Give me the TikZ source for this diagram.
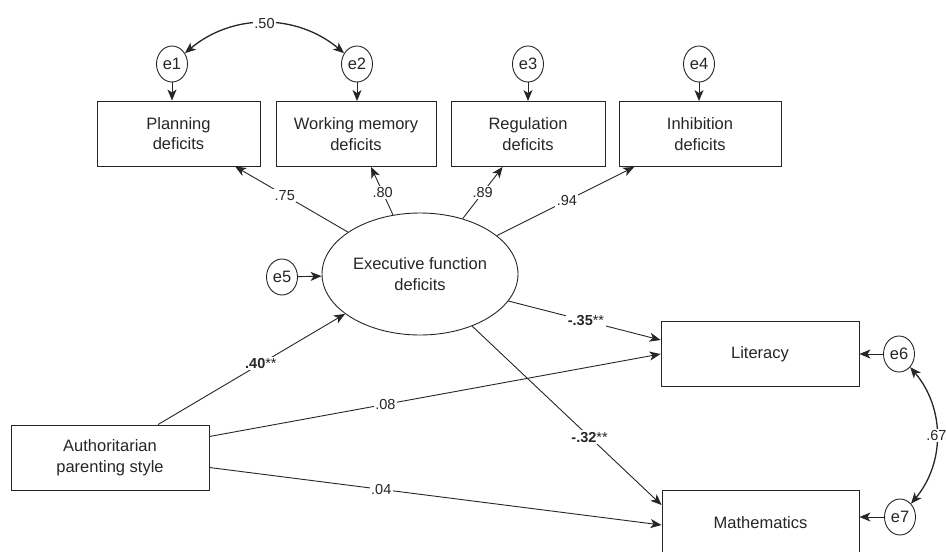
\documentclass[tikz,border=0pt]{standalone}
\usepackage{fontspec}
\setmainfont{Liberation Sans}
\usetikzlibrary{arrows.meta,shapes.geometric}
\begin{document}
\begin{tikzpicture}[x=1pt,y=-1pt,line width=0.9pt,draw=black!85,text=black!85,
    box/.style={draw,rectangle,minimum height=65pt,inner sep=0pt,align=center,font=\fontsize{16.5}{20.5}\selectfont},
    latent/.style={draw,ellipse,minimum width=196pt,minimum height=122pt,inner sep=0pt,align=center,font=\fontsize{16.5}{20.5}\selectfont},
    err/.style={draw,ellipse,minimum width=31pt,minimum height=36pt,inner sep=0pt,font=\fontsize{16.5}{20}\selectfont},
    eff/.style={-{Stealth[length=11pt,width=9pt,inset=3pt]}},
    cov/.style={{Stealth[length=11pt,width=9pt,inset=3pt]}-{Stealth[length=11pt,width=9pt,inset=3pt]},line width=1.3pt},
    coef/.style={fill=white,inner sep=1.5pt,font=\fontsize{14.5}{17}\selectfont}]
      \path[use as bounding box,fill=white] (0,0) rectangle (946,552);
      \node[box,minimum width=163pt] (plan) at (178.5,133.5) {Planning\\deficits};
      \node[box,minimum width=160pt] (wm) at (356,134) {Working memory\\deficits};
      \node[box,minimum width=154pt] (reg) at (528,134) {Regulation\\deficits};
      \node[box,minimum width=162pt] (inh) at (700,134) {Inhibition\\deficits};
      \node[latent] (efd) at (420,274) {Executive function\\deficits};
      \node[box,minimum width=198pt] (auth) at (110,457.5) {Authoritarian\\parenting style};
      \node[box,minimum width=198pt] (lit) at (760,354) {Literacy};
      \node[box,minimum width=197pt] (math) at (760.5,523) {Mathematics};
      \node[err] (e1) at (172,64) {e1};
      \node[err] (e2) at (357,64) {e2};
      \node[err] (e3) at (528,64) {e3};
      \node[err] (e4) at (699,64) {e4};
      \node[err] (e5) at (282,277) {e5};
      \node[err] (e6) at (899,354) {e6};
      \node[err] (e7) at (900,517) {e7};
      \draw[eff] (e1) -- (e1 |- plan.north);
      \draw[eff] (e2) -- (e2 |- wm.north);
      \draw[eff] (e3) -- (e3 |- reg.north);
      \draw[eff] (e4) -- (e4 |- inh.north);
      \draw[eff] (e5) -- (efd);
      \draw[eff] (e6) -- (lit);
      \draw[eff] (e7) -- (e7 -| math.east);
      \draw[cov] (e1) to[bend left=40] node[coef] {.50} (e2);
      \draw[cov] (e6) to[bend left=40] node[coef] {.67} (e7);
      \draw[eff] (efd) -- node[coef,pos=0.56] {.75} (plan);
      \draw[eff] (efd) -- node[coef,pos=0.47] {.80} (wm);
      \draw[eff] (efd) -- node[coef,pos=0.5] {.89} (reg);
      \draw[eff] (efd) -- node[coef,pos=0.51] {.94} (inh);
      \draw[eff] (efd.-17) -- node[coef,pos=0.51] {\textbf{-.35}**} ([yshift=14pt]lit.west);
      \draw[eff] (efd.-45) -- node[coef,pos=0.62] {\textbf{-.32}**} ([yshift=18pt]math.west);
      \draw[eff] ([xshift=48pt]auth.north) -- node[coef,pos=0.55] {\textbf{.40}**} (efd.208);
      \draw[eff] ([yshift=21pt]auth.east) -- node[coef,pos=0.39] {.08} (lit.west);
      \draw[eff] ([yshift=-10pt]auth.east) -- node[coef,pos=0.38] {.04} ([yshift=-2pt]math.west);
    \end{tikzpicture}
\end{document}
